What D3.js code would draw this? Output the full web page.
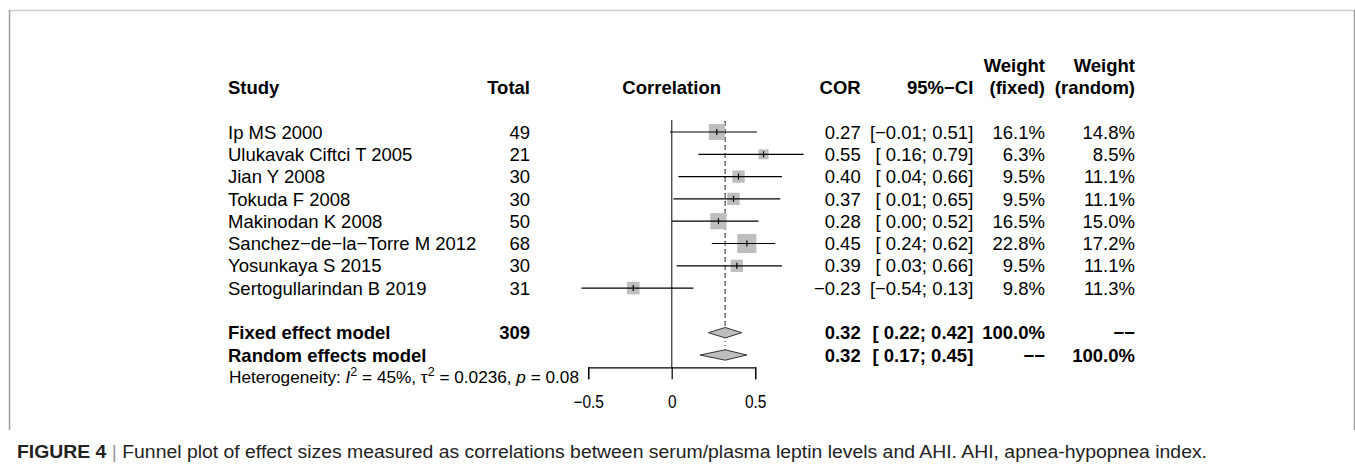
<!DOCTYPE html>
<html><head><meta charset="utf-8">
<script src="https://cdn.jsdelivr.net/npm/d3@7"></script>
<style>
html,body{margin:0;padding:0;background:#fff;}
svg{display:block;font-family:"Liberation Sans",Arial,Helvetica,sans-serif;}
text{white-space:pre;}
</style></head>
<body>
<svg id="chart" width="1355" height="469"></svg>
<script>
// ---- data ----
const studies = ["Ip MS 2000","Ulukavak Ciftci T 2005","Jian Y 2008","Tokuda F 2008","Makinodan K 2008","Sanchez\u2212de\u2212la\u2212Torre M 2012","Yosunkaya S 2015","Sertogullarindan B 2019"];
const totals = [49,21,30,30,50,68,30,31];
const cor = [0.27,0.55,0.40,0.37,0.28,0.45,0.39,-0.23];
const lower = [-0.01,0.16,0.04,0.01,0.00,0.24,0.03,-0.54];
const upper = [0.51,0.79,0.66,0.65,0.52,0.62,0.66,0.13];
const wFixed = [16.1,6.3,9.5,9.5,16.5,22.8,9.5,9.8];
const wRandom = [14.8,8.5,11.1,11.1,15.0,17.2,11.1,11.3];
const modelNames = ["Fixed effect model","Random effects model"];
const modelTotal = ["309",""];
const modelCor = [0.32,0.32];
const modelLower = [0.22,0.17];
const modelUpper = [0.42,0.45];
const modelWFixed = ["100.0%","\u2212\u2212"];
const modelWRandom = ["\u2212\u2212","100.0%"];
const xTicks = [-0.5,0,0.5];
const caption = "Funnel plot of effect sizes measured as correlations between serum/plasma leptin levels and AHI. AHI, apnea-hypopnea index.";

// ---- layout ----
const svg = d3.select("#chart");
const x = d3.scaleLinear().domain([-0.5,0.5]).range([588.2,755.2]);
const rowY = i => 132 + 22.3*i;
const fs = 18.5;
const base = 6.6;
const colStudy = 228, colTotal = 530, colCor = 860.7, colCI = 973.3, colWF = 1045, colWR = 1135;
const f2 = d3.format(".2f"), f1 = d3.format(".1f");
const ciText = (lo,hi) => "[" + (lo<0 ? f2(lo) : " " + f2(lo)) + "; " + f2(hi) + "]";

// frame
svg.append("line").attr("x1",9).attr("x2",1355).attr("y1",10.5).attr("y2",10.5).attr("stroke","#cfcfcf").attr("stroke-width",1.5);
svg.append("line").attr("x1",9.5).attr("x2",9.5).attr("y1",10).attr("y2",430).attr("stroke","#a0a0a0").attr("stroke-width",1.5);
svg.append("line").attr("x1",1354.5).attr("x2",1354.5).attr("y1",10).attr("y2",430).attr("stroke","#a0a0a0").attr("stroke-width",1.5);

function txt(xp, y, s, anchor, weight, size){
  return svg.append("text").attr("x",xp).attr("y",y).attr("text-anchor",anchor||"start")
    .attr("font-weight",weight||"normal").attr("font-size",size||fs).attr("fill","#000").text(s);
}

// headers
const hY = rowY(-2)+base, h2Y = rowY(-3)+base;
txt(colStudy,hY,"Study","start","bold");
txt(colTotal,hY,"Total","end","bold");
txt(x(0),hY,"Correlation","middle","bold");
txt(colCor,hY,"COR","end","bold");
txt(colCI,hY,"95%\u2212CI","end","bold");
txt(colWF,h2Y,"Weight","end","bold");
txt(colWF,hY,"(fixed)","end","bold");
txt(colWR,h2Y,"Weight","end","bold");
txt(colWR,hY,"(random)","end","bold");

// study rows text
studies.forEach((s,i)=>{
  const y = rowY(i)+base;
  txt(colStudy,y,s);
  txt(colTotal,y,String(totals[i]),"end");
  txt(colCor,y,f2(cor[i]),"end");
  txt(colCI,y,ciText(lower[i],upper[i]),"end");
  txt(colWF,y,f1(wFixed[i])+"%","end");
  txt(colWR,y,f1(wRandom[i])+"%","end");
});
modelNames.forEach((s,j)=>{
  const y = rowY(9+j)+base;
  txt(colStudy,y,s,"start","bold");
  txt(colTotal,y,modelTotal[j],"end","bold");
  txt(colCor,y,f2(modelCor[j]),"end","bold");
  txt(colCI,y,ciText(modelLower[j],modelUpper[j]),"end","bold");
  txt(colWF,y,modelWFixed[j],"end","bold");
  txt(colWR,y,modelWRandom[j],"end","bold");
});

// plot: zero line
const axisY = 367.3;
svg.append("line").attr("x1",x(0)).attr("x2",x(0)).attr("y1",120).attr("y2",axisY).attr("stroke","#555").attr("stroke-width",1.5);

// summary reference lines
const diamondH = 5.2;
svg.append("line").attr("x1",x(modelCor[0])).attr("x2",x(modelCor[0])).attr("y1",121).attr("y2",rowY(9)-diamondH)
  .attr("stroke","#333").attr("stroke-width",1).attr("stroke-dasharray","4,4");
svg.append("line").attr("x1",x(modelCor[1])).attr("x2",x(modelCor[1])).attr("y1",121).attr("y2",rowY(10)-diamondH)
  .attr("stroke","#333").attr("stroke-width",1).attr("stroke-dasharray","1,3");

// CIs and squares
const g = svg.append("g");
studies.forEach((s,i)=>{
  const y = rowY(i);
  const side = 4*Math.sqrt(wFixed[i]);
  g.append("rect").attr("x",x(cor[i])-side/2).attr("y",y-side/2).attr("width",side).attr("height",side).attr("fill","#bebebe");
  g.append("line").attr("x1",x(lower[i])).attr("x2",x(upper[i])).attr("y1",y).attr("y2",y).attr("stroke","#000").attr("stroke-width",1.2);
  g.append("line").attr("x1",x(cor[i])).attr("x2",x(cor[i])).attr("y1",y-3).attr("y2",y+3).attr("stroke","#000").attr("stroke-width",1.2);
});

// diamonds
modelNames.forEach((s,j)=>{
  const y = rowY(9+j);
  const pts = [[x(modelLower[j]),y],[x(modelCor[j]),y-diamondH],[x(modelUpper[j]),y],[x(modelCor[j]),y+diamondH]];
  g.append("path").attr("d",d3.line()(pts)+"Z").attr("fill","#bebebe").attr("stroke","#333").attr("stroke-width",1);
});

// axis
const ax = svg.append("g").attr("transform",`translate(0,${axisY})`)
  .call(d3.axisBottom(x).tickValues(xTicks).tickSize(12).tickSizeOuter(12).tickPadding(15.5)
        .tickFormat(d=>d===0?"0":d3.format(".1f")(d)));
ax.select(".domain").attr("stroke","#000").attr("stroke-width",1.2);
ax.selectAll(".tick line").attr("stroke","#000").attr("stroke-width",1.2);
ax.selectAll(".tick text").attr("font-size",18).attr("font-family","'Liberation Sans',Arial,sans-serif").attr("fill","#000")
  .each(function(){ const L = this.getComputedTextLength(); d3.select(this).attr("textLength",L*0.86).attr("lengthAdjust","spacingAndGlyphs"); });

// heterogeneity
const het = svg.append("text").attr("x",229).attr("y",rowY(11)+5.5).attr("font-size",16.5).attr("fill","#000");
het.append("tspan").text("Heterogeneity: ");
het.append("tspan").attr("font-style","italic").text("I");
het.append("tspan").attr("dy",-7).attr("font-size",12).text("2");
het.append("tspan").attr("dy",7).text(" = 45%, \u03c4");
het.append("tspan").attr("dy",-7).attr("font-size",12).text("2");
het.append("tspan").attr("dy",7).text(" = 0.0236, ");
het.append("tspan").attr("font-style","italic").text("p");
het.append("tspan").text(" = 0.08");
het.attr("textLength",350).attr("lengthAdjust","spacingAndGlyphs");

// caption
const cap = svg.append("text").attr("x",17).attr("y",458).attr("font-size",17.5).attr("fill","#222");
cap.append("tspan").attr("font-weight","bold").text("FIGURE 4");
cap.append("tspan").attr("fill","#999").text(" | ");
cap.append("tspan").text(caption);
cap.attr("textLength",1190).attr("lengthAdjust","spacingAndGlyphs");
</script>
</body></html>
